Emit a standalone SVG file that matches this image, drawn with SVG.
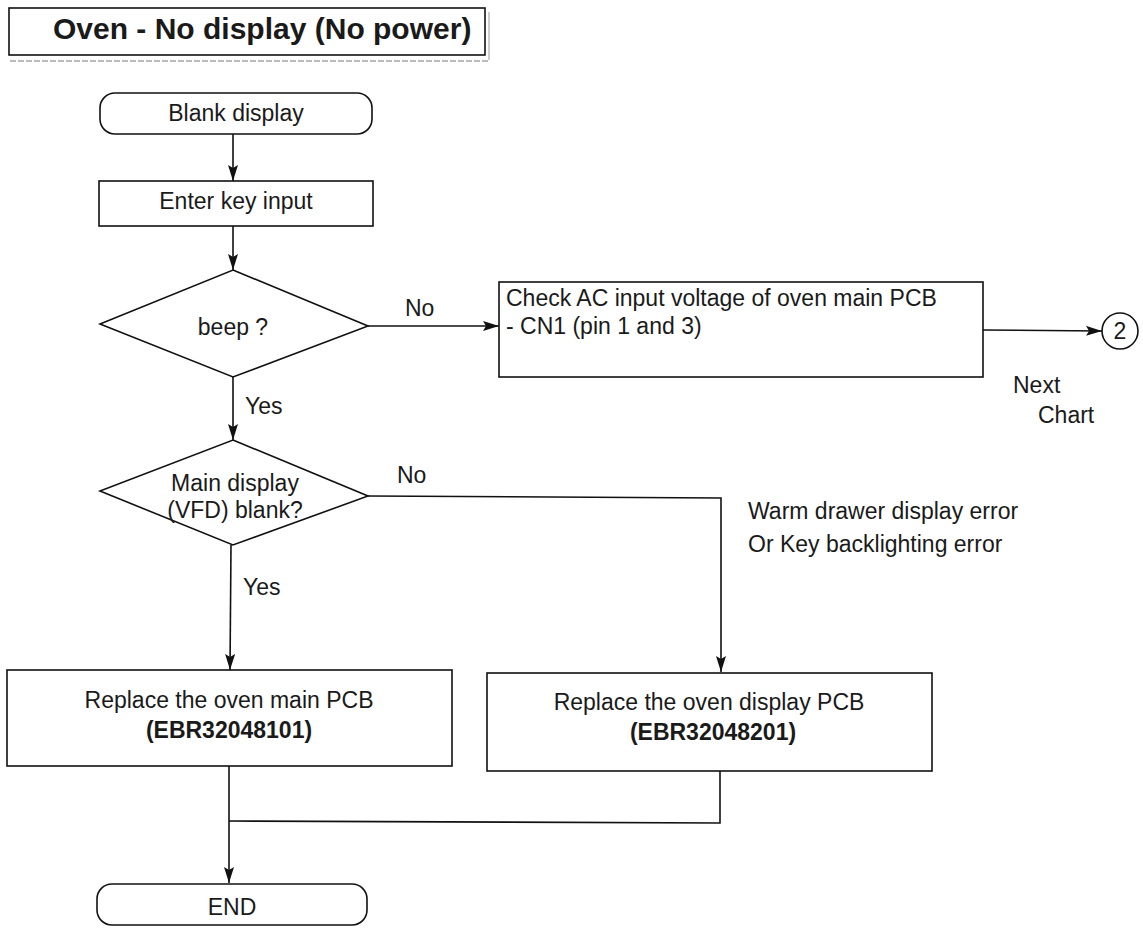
<svg xmlns="http://www.w3.org/2000/svg" width="1143" height="928" viewBox="0 0 1143 928">
<defs>
<style>
.t{font-family:"Liberation Sans",Arial,sans-serif;font-size:23px;fill:#1a1a1a}
.c{text-anchor:middle}
.b{font-weight:bold}
.s{fill:#fff;stroke:#111;stroke-width:1.6}
.l{fill:none;stroke:#111;stroke-width:1.6}
</style>
<marker id="ah" viewBox="0 0 16 10" refX="16" refY="5" markerWidth="16" markerHeight="10" markerUnits="userSpaceOnUse" orient="auto">
<path d="M0,0 L16,5 L0,10 L3,5 Z" fill="#111"/>
</marker>
</defs>
<rect width="1143" height="928" fill="#fff"/>
<g id="title">
<line x1="10" y1="61" x2="490" y2="61" stroke="#bbb" stroke-width="2" stroke-dasharray="6 2"/>
<line x1="489" y1="12" x2="489" y2="60" stroke="#ccc" stroke-width="2"/>
<rect x="9" y="8" width="476" height="47" class="s"/>
<text x="53" y="39" class="t b" style="font-size:30px">Oven - No display (No power)</text>
</g>
<g id="connectors">
<line x1="233" y1="134" x2="233" y2="181" class="l" marker-end="url(#ah)"/>
<line x1="233" y1="226" x2="233" y2="270" class="l" marker-end="url(#ah)"/>
<line x1="368" y1="326" x2="499" y2="326" class="l" marker-end="url(#ah)"/>
<line x1="983" y1="330" x2="1102" y2="331" class="l" marker-end="url(#ah)"/>
<line x1="233" y1="377" x2="233" y2="440" class="l" marker-end="url(#ah)"/>
<polyline points="368,496 721,498 721,672" class="l" marker-end="url(#ah)"/>
<line x1="231" y1="545" x2="230" y2="670" class="l" marker-end="url(#ah)"/>
<polyline points="720,771 720,823 229,821" class="l"/>
<line x1="229" y1="766" x2="229" y2="883" class="l" marker-end="url(#ah)"/>
<text x="405" y="316" class="t">No</text>
<text x="245" y="414" class="t">Yes</text>
<text x="397" y="483" class="t">No</text>
<text x="243" y="595" class="t">Yes</text>
<text x="748" y="519" class="t">Warm drawer display error</text>
<text x="748" y="552" class="t">Or Key backlighting error</text>
<text x="1013" y="393" class="t">Next</text>
<text x="1038" y="423" class="t">Chart</text>
</g>
<g id="start">
<rect x="100" y="93" width="272" height="41" rx="15" class="s"/>
<text x="236" y="121" class="t c">Blank display</text>
</g>
<g id="enter">
<rect x="99" y="181" width="274" height="45" class="s"/>
<text x="236" y="209" class="t c">Enter key input</text>
</g>
<g id="beep">
<polygon points="233,270 368,326 233,377 100,324" class="s"/>
<text x="233" y="335" class="t c">beep ?</text>
</g>
<g id="checkac">
<rect x="499" y="282" width="484" height="95" class="s"/>
<text x="506" y="306" class="t">Check AC input voltage of oven main PCB</text>
<text x="506" y="334" class="t">- CN1 (pin 1 and 3)</text>
</g>
<g id="next">
<circle cx="1120" cy="331" r="18" class="s"/>
<text x="1120" y="339" class="t c">2</text>
</g>
<g id="vfd">
<polygon points="233,440 368,496 233,545 100,491" class="s"/>
<text x="235" y="491" class="t c">Main display</text>
<text x="235" y="518" class="t c">(VFD) blank?</text>
</g>
<g id="mainpcb">
<rect x="7" y="670" width="445" height="96" class="s"/>
<text x="229" y="708" class="t c">Replace the oven main PCB</text>
<text x="229" y="738" class="t c b">(EBR32048101)</text>
</g>
<g id="displaypcb">
<rect x="487" y="673" width="445" height="98" class="s"/>
<text x="709" y="710" class="t c">Replace the oven display PCB</text>
<text x="713" y="740" class="t c b">(EBR32048201)</text>
</g>
<g id="end">
<rect x="97" y="884" width="270" height="41" rx="15" class="s"/>
<text x="232" y="915" class="t c">END</text>
</g>
</svg>
